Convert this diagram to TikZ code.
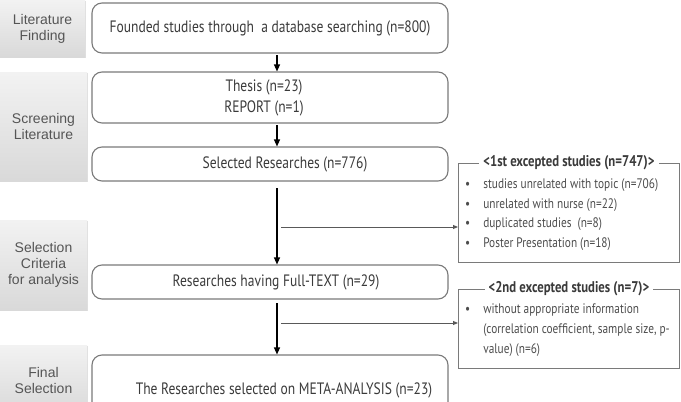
\documentclass[tikz,border=0pt]{standalone}
\usepackage{fontspec}
\setmainfont{Liberation Sans}
\newfontfamily\condf[FakeStretch=0.82]{PT Sans}
\usetikzlibrary{arrows.meta,shadows}
\definecolor{txt}{HTML}{3A3A3A}
\definecolor{lbl}{HTML}{555555}
\definecolor{brd}{HTML}{7A7A7A}
\begin{document}
\begin{tikzpicture}[x=1pt,y=-1pt,
  stage/.style={inner sep=0pt, top color=gray!10, bottom color=gray!30, draw=none,
    text=lbl, align=center, font=\fontsize{14}{16}\selectfont,
    drop shadow={shadow xshift=1pt, shadow yshift=-1pt, opacity=0.25}},
  mainbox/.style={draw=brd, line width=1.1pt, rounded corners=10pt, minimum width=356pt,
    inner sep=0pt, text=txt, align=center, font=\condf\fontsize{16.5}{21}\selectfont},
  exbox/.style={draw=brd, line width=0.9pt, minimum width=221pt, inner sep=0pt, anchor=north west},
  extitle/.style={fill=white, inner xsep=4pt, inner ysep=1pt, text=txt, font=\condf\bfseries\fontsize{15.5}{17}\selectfont},
  exlist/.style={anchor=north west, inner sep=0pt, text=gray!60!black, align=left, font=\condf\fontsize{13.8}{15}\selectfont},
  flow/.style={line width=1.3pt, -{Triangle[length=7pt,width=6pt]}},
  side/.style={line width=0.9pt, draw=gray!70!black, -{Triangle[length=5pt,width=4pt]}}
]
\useasboundingbox (0,0) rectangle (681,402);
\clip (0,0) rectangle (681,402);
% stage labels
\node[stage, minimum width=85pt, minimum height=57pt] (s1) at (42.5,28.5) {Literature\\Finding};
\node[stage, minimum width=87pt, minimum height=109pt] (s2) at (43.5,126.5) {Screening\\Literature};
\node[stage, minimum width=87pt, minimum height=90pt] (s3) at (43.5,265) {Selection\\Criteria\\for analysis};
\node[stage, minimum width=87pt, minimum height=70pt] (s4) at (43.5,380) {Final\\Selection};
% main boxes
\node[mainbox, minimum height=50pt] (b1) at (270,28) {Founded studies through\ \ a database searching (n=800)};
\node[mainbox, minimum height=51pt] (b2) at (270,97.5) {\hspace*{-12pt}Thesis (n=23)\\\hspace*{-12pt}REPORT (n=1)};
\node[mainbox, minimum height=34pt] (b3) at (270,164) {\hspace*{30pt}Selected Researches (n=776)};
\node[mainbox, minimum height=34pt] (b4) at (270,282) {\hspace*{12pt}Researches having Full-TEXT (n=29)};
\node[mainbox, minimum height=70pt] (b5) at (270,390) {};
\node[inner sep=0pt, text=txt, font=\condf\fontsize{16.5}{20}\selectfont] (b5t) at (284,390) {The Researches selected on META-ANALYSIS (n=23)};
% excluded boxes
\node[exbox, minimum height=99pt] (r1) at (458,163) {};
\node[extitle] (r1t) at (r1.north) {<1st excepted studies (n=747)>};
\node[exlist] (r1l) at (465,178) {\begin{tabular}{@{}l@{\hspace{13pt}}l@{}}
\textbullet & studies unrelated with topic (n=706)\\[4.5pt]
\textbullet & unrelated with nurse (n=22)\\[4.5pt]
\textbullet & duplicated studies\ \ (n=8)\\[4.5pt]
\textbullet & Poster Presentation (n=18)
\end{tabular}};
\node[exbox, minimum height=79pt] (r2) at (458,289) {};
\node[extitle] (r2t) at (r2.north) {<2nd excepted studies (n=7)>};
\node[exlist] (r2l) at (465,303) {\begin{tabular}{@{}l@{\hspace{13pt}}l@{}}
\textbullet & without appropriate information\\[5pt]
 & (correlation coefficient, sample size, p-\\[5pt]
 & value) (n=6)
\end{tabular}};
% connectors
\coordinate (a1) at (277,55);
\coordinate (a2) at (277,125);
\coordinate (a3) at (277,188);
\coordinate (a4) at (277,303);
\coordinate (j1) at (281,227);
\coordinate (j2) at (281,323);
\draw[flow] (a1) -- (a1 |- b2.north);
\draw[flow] (a2) -- (a2 |- b3.north);
\draw[flow] (a3) -- (a3 |- b4.north);
\draw[flow] (a4) -- (a4 |- b5.north);
\draw[side] (j1) -- (j1 -| r1.west);
\draw[side] (j2) -- (j2 -| r2.west);
\end{tikzpicture}
\end{document}
